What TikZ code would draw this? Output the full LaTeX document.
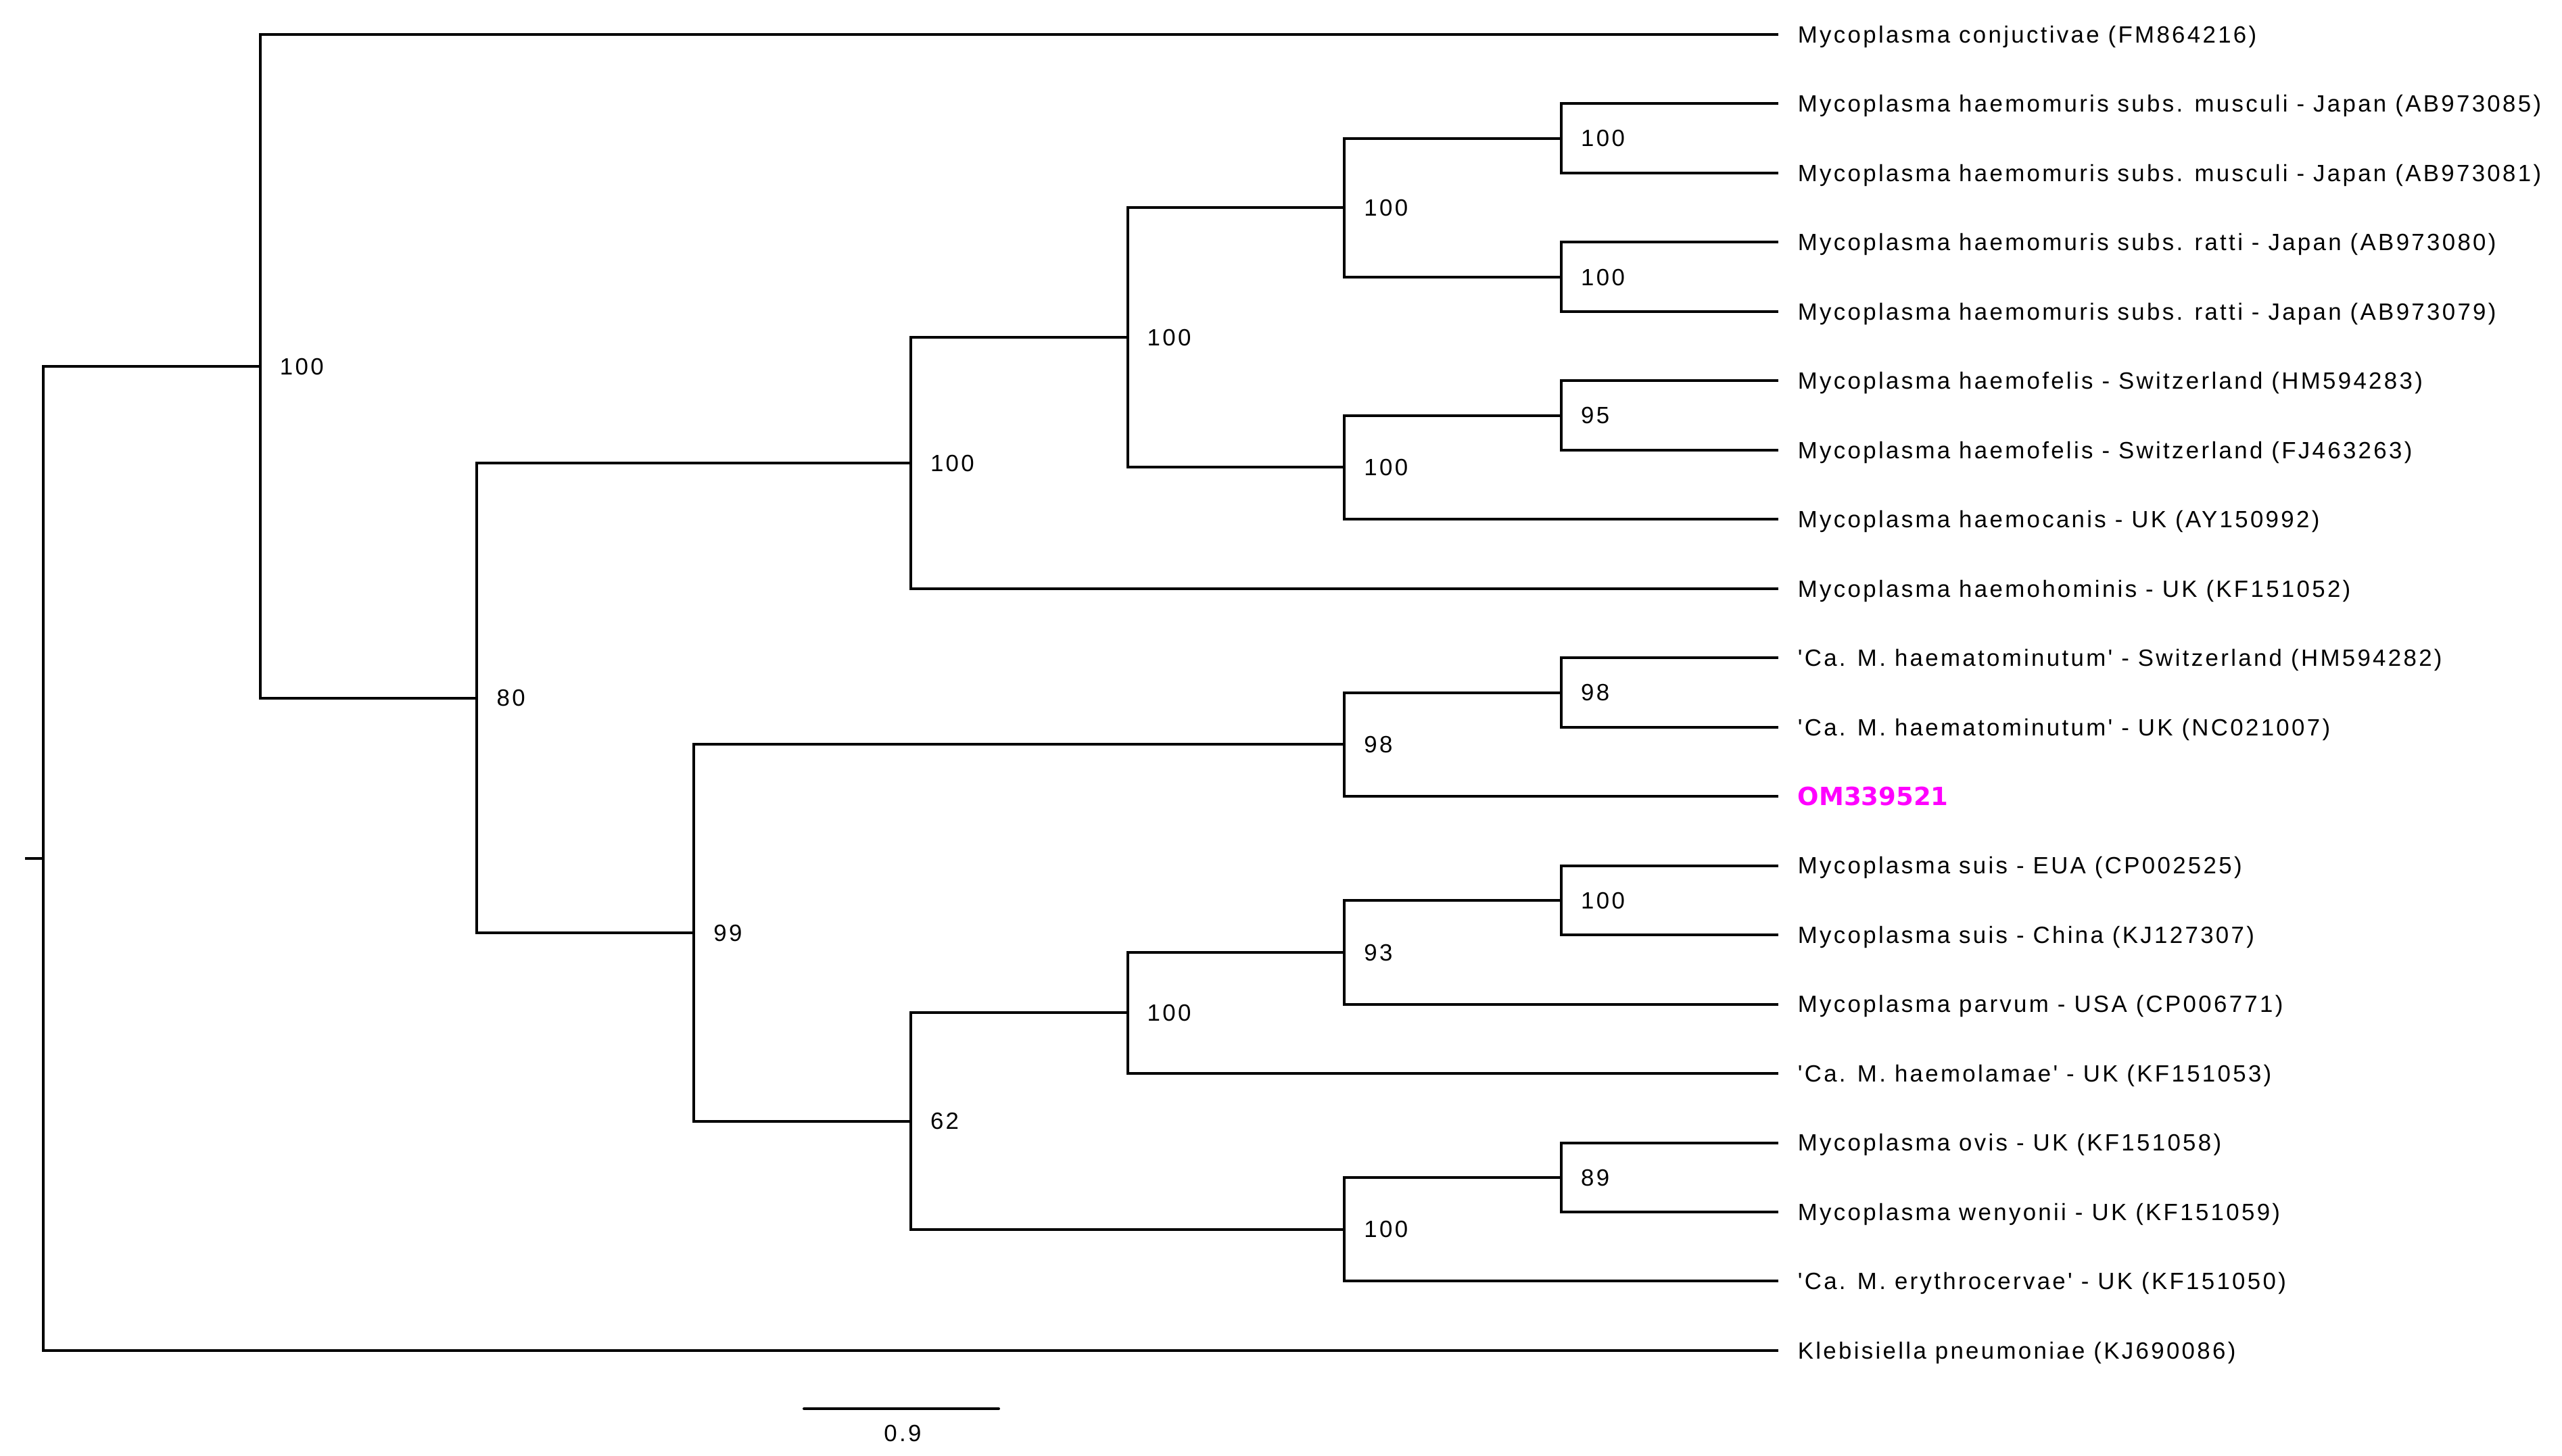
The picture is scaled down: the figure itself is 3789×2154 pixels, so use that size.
\documentclass[tikz,border=0pt]{standalone}
\usepackage{fontspec}
\newfontfamily\tipfamily{Liberation Sans}[LetterSpace=9.6,Ligatures=TeXOff]
\newfontfamily\omfamily{DejaVu Sans}[Ligatures=TeXOff]
\definecolor{hilite}{RGB}{255,0,255}
\tikzset{
  branch/.style={line width=4pt, line join=miter, line cap=butt},
  labfont/.style={font=\tipfamily\fontsize{34.8}{40}\selectfont},
  tiplab/.style={labfont, anchor=base west, inner sep=0pt, xshift=29pt, yshift=-12.3pt},
  bslab/.style={labfont, anchor=base west, inner sep=0pt, xshift=29pt, yshift=-12.3pt},
  omlab/.style={font=\omfamily\bfseries\fontsize{37}{44}\selectfont, text=hilite, anchor=base west, inner sep=0pt, xshift=29pt, yshift=-13.5pt},
}
\begin{document}
\begin{tikzpicture}[x=1pt,y=-1pt]
\useasboundingbox (0,0) rectangle (3789,2154);
% tips
\foreach \i in {0,...,19}{
  \coordinate (t\i) at (2629.6,{51+102.47*\i});
}
% internal nodes
\coordinate (rs) at (37,1269.9);
\coordinate (root) at (64,1269.9);
\coordinate (A) at (384.7,541.7);
\coordinate (B) at (705.4,1032.5);
\coordinate (C) at (1346.8,685.1);
\coordinate (E) at (1667.5,499.3);
\coordinate (F) at (1988.2,307.2);
\coordinate (H) at (2308.9,204.7);
\coordinate (I) at (2308.9,409.7);
\coordinate (G) at (1988.2,691.4);
\coordinate (J) at (2308.9,614.6);
\coordinate (D) at (1026.1,1379.9);
\coordinate (K) at (1988.2,1101.3);
\coordinate (Ln) at (2308.9,1024.5);
\coordinate (M) at (1346.8,1658.5);
\coordinate (N) at (1667.5,1498.4);
\coordinate (P) at (1988.2,1408.7);
\coordinate (Q) at (2308.9,1331.9);
\coordinate (O) at (1988.2,1818.6);
\coordinate (R) at (2308.9,1741.8);
% branches
\draw[branch] (rs) -- (root);
\draw[branch] (root) |- (A);  \draw[branch] (root) |- (t19);
\draw[branch] (A) |- (t0);    \draw[branch] (A) |- (B);
\draw[branch] (B) |- (C);     \draw[branch] (B) |- (D);
\draw[branch] (C) |- (E);     \draw[branch] (C) |- (t8);
\draw[branch] (E) |- (F);     \draw[branch] (E) |- (G);
\draw[branch] (F) |- (H);     \draw[branch] (F) |- (I);
\draw[branch] (H) |- (t1);    \draw[branch] (H) |- (t2);
\draw[branch] (I) |- (t3);    \draw[branch] (I) |- (t4);
\draw[branch] (G) |- (J);     \draw[branch] (G) |- (t7);
\draw[branch] (J) |- (t5);    \draw[branch] (J) |- (t6);
\draw[branch] (D) |- (K);     \draw[branch] (D) |- (M);
\draw[branch] (K) |- (Ln);    \draw[branch] (K) |- (t11);
\draw[branch] (Ln) |- (t9);   \draw[branch] (Ln) |- (t10);
\draw[branch] (M) |- (N);     \draw[branch] (M) |- (O);
\draw[branch] (N) |- (P);     \draw[branch] (N) |- (t15);
\draw[branch] (P) |- (Q);     \draw[branch] (P) |- (t14);
\draw[branch] (Q) |- (t12);   \draw[branch] (Q) |- (t13);
\draw[branch] (O) |- (R);     \draw[branch] (O) |- (t18);
\draw[branch] (R) |- (t16);   \draw[branch] (R) |- (t17);
% support values
\node[bslab] (bA) at (A) {100};
\node[bslab] (bB) at (B) {80};
\node[bslab] (bC) at (C) {100};
\node[bslab] (bE) at (E) {100};
\node[bslab] (bF) at (F) {100};
\node[bslab] (bH) at (H) {100};
\node[bslab] (bI) at (I) {100};
\node[bslab] (bG) at (G) {100};
\node[bslab] (bJ) at (J) {95};
\node[bslab] (bD) at (D) {99};
\node[bslab] (bK) at (K) {98};
\node[bslab] (bLn) at (Ln) {98};
\node[bslab] (bM) at (M) {62};
\node[bslab] (bN) at (N) {100};
\node[bslab] (bP) at (P) {93};
\node[bslab] (bQ) at (Q) {100};
\node[bslab] (bO) at (O) {100};
\node[bslab] (bR) at (R) {89};
% tip labels
\node[tiplab] (l0) at (t0) {Mycoplasma conjuctivae (FM864216)};
\node[tiplab] (l1) at (t1) {Mycoplasma haemomuris subs. musculi - Japan (AB973085)};
\node[tiplab] (l2) at (t2) {Mycoplasma haemomuris subs. musculi - Japan (AB973081)};
\node[tiplab] (l3) at (t3) {Mycoplasma haemomuris subs. ratti - Japan (AB973080)};
\node[tiplab] (l4) at (t4) {Mycoplasma haemomuris subs. ratti - Japan (AB973079)};
\node[tiplab] (l5) at (t5) {Mycoplasma haemofelis - Switzerland (HM594283)};
\node[tiplab] (l6) at (t6) {Mycoplasma haemofelis - Switzerland (FJ463263)};
\node[tiplab] (l7) at (t7) {Mycoplasma haemocanis - UK (AY150992)};
\node[tiplab] (l8) at (t8) {Mycoplasma haemohominis - UK (KF151052)};
\node[tiplab] (l9) at (t9) {'Ca. M. haematominutum' - Switzerland (HM594282)};
\node[tiplab] (l10) at (t10) {'Ca. M. haematominutum' - UK (NC021007)};
\node[omlab] (l11) at (t11) {OM339521};
\node[tiplab] (l12) at (t12) {Mycoplasma suis - EUA (CP002525)};
\node[tiplab] (l13) at (t13) {Mycoplasma suis - China (KJ127307)};
\node[tiplab] (l14) at (t14) {Mycoplasma parvum - USA (CP006771)};
\node[tiplab] (l15) at (t15) {'Ca. M. haemolamae' - UK (KF151053)};
\node[tiplab] (l16) at (t16) {Mycoplasma ovis - UK (KF151058)};
\node[tiplab] (l17) at (t17) {Mycoplasma wenyonii - UK (KF151059)};
\node[tiplab] (l18) at (t18) {'Ca. M. erythrocervae' - UK (KF151050)};
\node[tiplab] (l19) at (t19) {Klebisiella pneumoniae (KJ690086)};
% scale bar
\coordinate (sb1) at (1189,2084);
\coordinate (sb2) at (1477,2084);
\draw[branch, line cap=round] (sb1) -- (sb2);
\node[labfont, anchor=base, inner sep=0pt] (sbl) at (1335,2132) {0.9};
\end{tikzpicture}
\end{document}
